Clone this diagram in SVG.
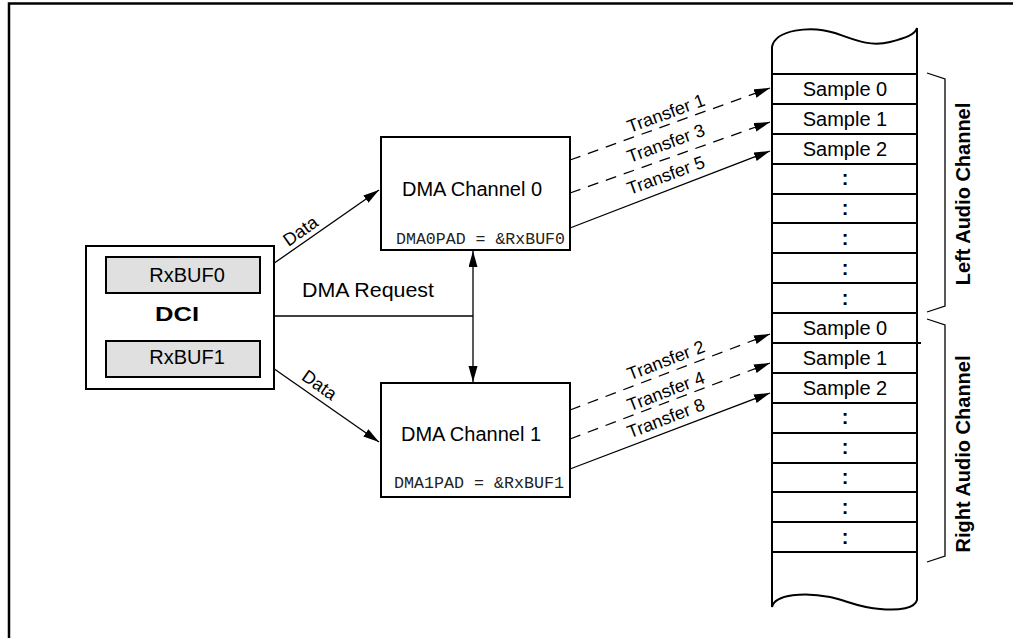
<svg xmlns="http://www.w3.org/2000/svg" width="1013" height="638" viewBox="0 0 1013 638">
<defs>
<marker id="ah" markerUnits="userSpaceOnUse" markerWidth="17" markerHeight="10" refX="16" refY="4.5" orient="auto-start-reverse">
<path d="M0,0 L16,4.5 L0,9 z" fill="#000"/>
</marker>
<style>
.box{fill:#fff;stroke:#000;stroke-width:2}
.buf{fill:#e0e0e0;stroke:#000;stroke-width:2}
.t{font-family:"Liberation Sans",Arial,sans-serif;font-size:20px;fill:#000}
.tb{font-family:"Liberation Sans",Arial,sans-serif;font-size:20px;font-weight:bold;fill:#000}
.tr{font-family:"Liberation Sans",Arial,sans-serif;font-size:18px;fill:#000}
.mono{font-family:"Liberation Mono","Courier New",monospace;font-size:16.5px;fill:#222}
.ln{stroke:#000;stroke-width:1.3;fill:none}
.dash{stroke-dasharray:11 8}
.row{stroke:#000;stroke-width:2}
</style>
</defs>
<rect width="1013" height="638" fill="#fff"/>
<path d="M9,638 L9,3.5 L1013,3.5" fill="none" stroke="#000" stroke-width="2.5"/>

<g id="connectors">
<line class="ln" x1="260" y1="273" x2="379" y2="190" marker-end="url(#ah)"/>
<line class="ln" x1="260" y1="359" x2="379" y2="442" marker-end="url(#ah)"/>
<line class="ln" x1="274" y1="316" x2="473" y2="316"/>
<line class="ln" x1="473" y1="251" x2="473" y2="382" marker-start="url(#ah)" marker-end="url(#ah)"/>
<line class="ln dash" x1="570" y1="160" x2="770" y2="88" marker-end="url(#ah)"/>
<line class="ln dash" x1="570" y1="193" x2="770" y2="122" marker-end="url(#ah)"/>
<line class="ln" x1="570" y1="228" x2="770" y2="151" marker-end="url(#ah)"/>
<line class="ln dash" x1="570" y1="410" x2="770" y2="334" marker-end="url(#ah)"/>
<line class="ln dash" x1="570" y1="439" x2="770" y2="363" marker-end="url(#ah)"/>
<line class="ln" x1="570" y1="469" x2="770" y2="393" marker-end="url(#ah)"/>
<text class="tr" text-anchor="middle" transform="translate(304,236) rotate(-35)">Data</text>
<text class="tr" text-anchor="middle" transform="translate(316,390) rotate(35)">Data</text>
<text class="t" x="302" y="297" textLength="132" lengthAdjust="spacingAndGlyphs">DMA Request</text>
<text class="tr" text-anchor="middle" transform="translate(668,119) rotate(-20)">Transfer 1</text>
<text class="tr" text-anchor="middle" transform="translate(668,149) rotate(-20)">Transfer 3</text>
<text class="tr" text-anchor="middle" transform="translate(668,181) rotate(-20)">Transfer 5</text>
<text class="tr" text-anchor="middle" transform="translate(668,366) rotate(-21)">Transfer 2</text>
<text class="tr" text-anchor="middle" transform="translate(668,397) rotate(-21)">Transfer 4</text>
<text class="tr" text-anchor="middle" transform="translate(668,424) rotate(-21)">Transfer 8</text>
</g>

<g id="dci">
<rect class="box" x="86" y="246" width="188" height="143"/>
<rect class="buf" x="106" y="257" width="154" height="36"/>
<text class="t" x="187" y="282" text-anchor="middle">RxBUF0</text>
<text class="tb" x="155" y="321" font-size="21" textLength="44" lengthAdjust="spacingAndGlyphs">DCI</text>
<rect class="buf" x="106" y="341" width="154" height="36"/>
<text class="t" x="187" y="364" text-anchor="middle">RxBUF1</text>
</g>

<g id="dma0">
<rect class="box" x="381" y="137" width="189" height="113"/>
<text class="t" x="472" y="196" text-anchor="middle">DMA Channel 0</text>
<text class="mono" x="396" y="244" textLength="169" lengthAdjust="spacingAndGlyphs">DMA0PAD = &amp;RxBUF0</text>
</g>

<g id="dma1">
<rect class="box" x="381" y="383" width="189" height="114"/>
<text class="t" x="471" y="441" text-anchor="middle">DMA Channel 1</text>
<text class="mono" x="394" y="488" textLength="170" lengthAdjust="spacingAndGlyphs">DMA1PAD = &amp;RxBUF1</text>
</g>

<g id="memory">
<path d="M772,607 L772,47 C775,30 810,25 835,33 C855,40 870,47 890,42 C905,38 915,35 917,28 L917,600 C915,608 900,611 880,609 C860,608 845,600 830,597 C805,592 775,594 772,607 Z" fill="#fff" stroke="#000" stroke-width="2"/>
<line class="row" x1="772" y1="74" x2="917" y2="74"/>
<line class="row" x1="772" y1="104" x2="917" y2="104"/>
<line class="row" x1="772" y1="134" x2="917" y2="134"/>
<line class="row" x1="772" y1="164" x2="917" y2="164"/>
<line class="row" x1="772" y1="194" x2="917" y2="194"/>
<line class="row" x1="772" y1="223" x2="917" y2="223"/>
<line class="row" x1="772" y1="253" x2="917" y2="253"/>
<line class="row" x1="772" y1="283" x2="917" y2="283"/>
<line class="row" x1="772" y1="313" x2="917" y2="313"/>
<line class="row" x1="772" y1="343" x2="921" y2="343"/>
<line class="row" x1="772" y1="373" x2="917" y2="373"/>
<line class="row" x1="772" y1="403" x2="917" y2="403"/>
<line class="row" x1="772" y1="433" x2="917" y2="433"/>
<line class="row" x1="772" y1="463" x2="917" y2="463"/>
<line class="row" x1="772" y1="492" x2="917" y2="492"/>
<line class="row" x1="772" y1="522" x2="917" y2="522"/>
<line class="row" x1="772" y1="552" x2="917" y2="552"/>
<g class="t" text-anchor="middle">
<text x="845" y="96">Sample 0</text>
<text x="845" y="126">Sample 1</text>
<text x="845" y="156">Sample 2</text>
<text x="845" y="185" font-weight="bold">:</text>
<text x="845" y="215" font-weight="bold">:</text>
<text x="845" y="245" font-weight="bold">:</text>
<text x="845" y="275" font-weight="bold">:</text>
<text x="845" y="305" font-weight="bold">:</text>
<text x="845" y="335">Sample 0</text>
<text x="845" y="365">Sample 1</text>
<text x="845" y="395">Sample 2</text>
<text x="845" y="424" font-weight="bold">:</text>
<text x="845" y="454" font-weight="bold">:</text>
<text x="845" y="484" font-weight="bold">:</text>
<text x="845" y="514" font-weight="bold">:</text>
<text x="845" y="544" font-weight="bold">:</text>
</g>
</g>

<g id="left-bracket">
<polyline points="927,73 945,79 945,306 927,312" fill="none" stroke="#000" stroke-width="1.3"/>
<text class="tb" font-size="21" text-anchor="middle" transform="translate(970,194) rotate(-90)">Left Audio Channel</text>
</g>
<g id="right-bracket">
<polyline points="927,319 945,325 945,556 927,562" fill="none" stroke="#000" stroke-width="1.3"/>
<text class="tb" font-size="21" text-anchor="middle" transform="translate(970,454) rotate(-90)">Right Audio Channel</text>
</g>
</svg>
